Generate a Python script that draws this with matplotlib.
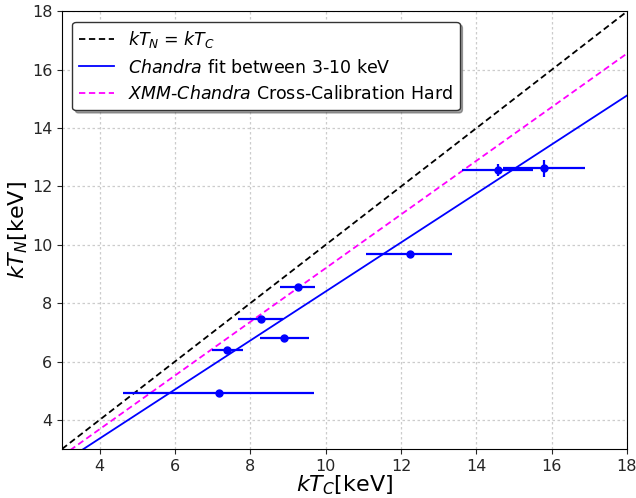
import numpy as np
import matplotlib; matplotlib.use("Agg")
import matplotlib.pyplot as plt

# measured temperatures (Chandra vs. NuSTAR), keV
kT_C = [7.16, 7.38, 8.29, 8.90, 9.26, 12.24, 14.57, 15.80]
kT_N = [4.93, 6.41, 7.44, 6.82, 8.57, 9.70, 12.57, 12.62]
kT_C_lo = [4.61, 6.97, 7.68, 8.26, 8.79, 11.07, 13.61, 14.72]
kT_C_hi = [9.69, 7.80, 8.88, 9.56, 9.72, 13.36, 15.51, 16.88]
kT_N_err = [0.0, 0.0, 0.0, 0.0, 0.0, 0.0, 0.20, 0.28]

FIT_SLOPE = 0.84     # Chandra fit 3-10 keV
XCAL_SLOPE = 0.92    # XMM-Chandra cross-calibration (hard)
LIMITS = [3, 18]
TICKS = [4, 6, 8, 10, 12, 14, 16, 18]

fig = plt.figure(figsize=(6.36, 4.98), dpi=100)
ax = fig.add_axes([62 / 636, 49 / 498, 565 / 636, 437.5 / 498])

xx = np.array(LIMITS, dtype=float)
ax.plot(xx, xx, ls=(0, (3.5, 2)), c="black", lw=1.3, label=r"$kT_N$ = $kT_C$")
ax.plot(xx, FIT_SLOPE * xx, c="blue", lw=1.3,
        label=r"$\it{Chandra}$ fit between 3-10 keV")
ax.plot(xx, XCAL_SLOPE * xx, ls=(0, (3.5, 2)), c="magenta", lw=1.3,
        label=r"$\it{XMM}$-$\it{Chandra}$ Cross-Calibration Hard")

x = np.array(kT_C); y = np.array(kT_N)
xerr = [x - np.array(kT_C_lo), np.array(kT_C_hi) - x]
ax.errorbar(x, y, xerr=xerr, yerr=kT_N_err, fmt="o", color="blue", ms=5,
            elinewidth=1.6, capsize=0)

ax.set_xlim(LIMITS); ax.set_ylim(LIMITS)
ax.set_xticks(TICKS); ax.set_yticks(TICKS)
ax.tick_params(labelsize=11.5, colors="0.15")
ax.grid(ls=(0, (2, 2)), c="#cccccc", lw=0.9)
ax.set_xlabel(r"$kT_C$[keV]", fontsize=16, labelpad=0)
ax.set_ylabel(r"$kT_N$[keV]", fontsize=16, labelpad=1)
leg = ax.legend(loc="upper left", fontsize=12.5, framealpha=1, shadow=True,
                fancybox=True, borderaxespad=0.6, handlelength=2.0)
leg.get_frame().set_edgecolor("0.2")

fig.savefig("out.png", dpi=100)
